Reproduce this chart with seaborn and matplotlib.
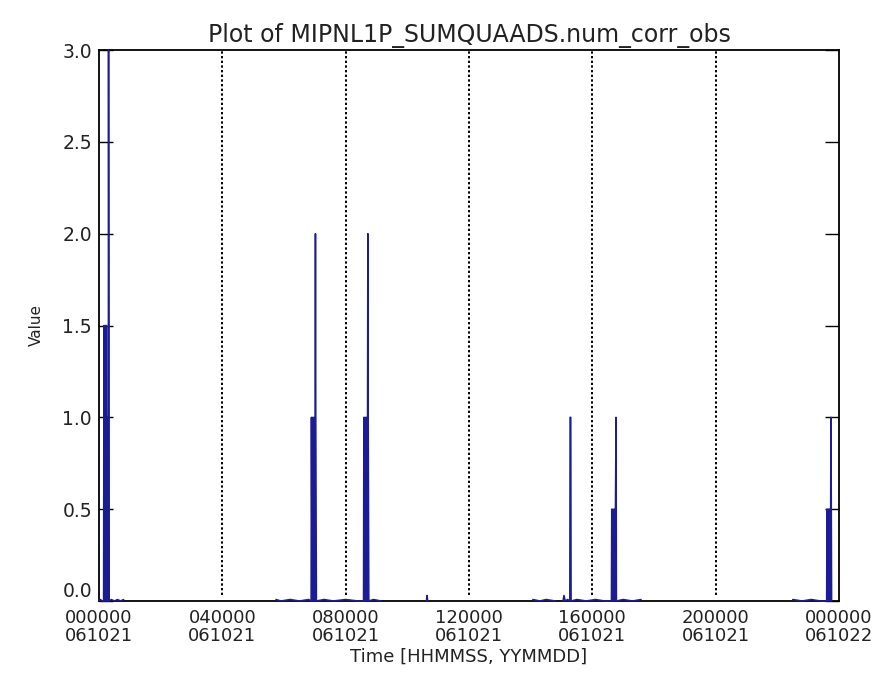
import numpy as np
import pandas as pd
import seaborn as sns
import matplotlib
matplotlib.use("Agg")
import matplotlib.pyplot as plt

# data (time in hours since 000000 061021)
seg1_t = [0.00, 0.05, 0.10, 0.15, 0.16, 0.18, 0.20, 0.22, 0.24, 0.26, 0.28, 0.30, 0.31, 0.33, 0.40, 0.50, 0.60, 0.70, 0.80]
seg1_v = [0.00, 0.008, 0.00, 0.00, 1.50, 0.00, 1.50, 0.00, 1.50, 0.00, 1.00, 0.00, 3.00, 0.00, 0.008, 0.00, 0.008, 0.00, 0.008]

seg2_t = [5.74, 5.90, 6.20, 6.50, 6.80, 6.88, 6.89, 6.91, 6.93, 6.95, 6.97, 6.99, 7.01, 7.02, 7.03, 7.05, 7.30, 7.60, 8.00, 8.40,
          8.58, 8.59, 8.61, 8.63, 8.65, 8.67, 8.69, 8.71, 8.72, 8.73, 8.75, 8.90, 9.15]
seg2_v = [0.008, 0.00, 0.008, 0.00, 0.008, 0.00, 1.00, 0.00, 1.00, 0.00, 1.00, 0.00, 1.00, 2.00, 1.00, 0.00, 0.008, 0.00, 0.008, 0.00,
          0.00, 1.00, 0.00, 1.00, 0.00, 1.00, 0.00, 1.00, 2.00, 1.00, 0.00, 0.008, 0.00]

seg3_t = [10.62, 10.64, 10.66]
seg3_v = [0.00, 0.03, 0.00]

seg4_t = [14.07, 14.30, 14.50, 14.80]
seg4_v = [0.008, 0.00, 0.008, 0.00]

seg5_t = [15.05, 15.08, 15.12, 15.20, 15.27, 15.28, 15.30, 15.31, 15.50, 15.80, 16.10, 16.40, 16.62,
          16.63, 16.65, 16.67, 16.69, 16.71, 16.73, 16.75, 16.77, 16.78, 17.00, 17.30, 17.58]
seg5_v = [0.00, 0.03, 0.00, 0.008, 0.00, 1.00, 1.00, 0.00, 0.008, 0.00, 0.008, 0.00, 0.00,
          0.50, 0.00, 0.50, 0.00, 0.50, 0.00, 0.50, 1.00, 0.00, 0.008, 0.00, 0.008]

seg6_t = [22.50, 22.80, 23.10, 23.40, 23.60, 23.61, 23.63, 23.65, 23.67, 23.69, 23.71, 23.73, 23.74, 23.76]
seg6_v = [0.008, 0.00, 0.008, 0.00, 0.00, 0.50, 0.00, 0.50, 0.00, 0.50, 0.00, 0.50, 1.00, 0.00]

x_ticks = [0, 4, 8, 12, 16, 20, 24]
x_ticklabels = ["000000\n061021", "040000\n061021", "080000\n061021", "120000\n061021",
                "160000\n061021", "200000\n061021", "000000\n061022"]
y_ticks = [0.0, 0.5, 1.0, 1.5, 2.0, 2.5, 3.0]
grid_lines = [4, 8, 12, 16, 20]

segs = [(seg1_t, seg1_v), (seg2_t, seg2_v), (seg3_t, seg3_v),
        (seg4_t, seg4_v), (seg5_t, seg5_v), (seg6_t, seg6_v)]
rows = []
for i, (ts, vs) in enumerate(segs):
    for t, v in zip(ts, vs):
        rows.append({"hours": t, "value": v, "seg": i})
df = pd.DataFrame(rows)

sns.set_theme(style="white")
plt.rcParams['font.family'] = ['DejaVu Sans']

fig = plt.figure(figsize=(8.89, 6.98), dpi=100)
ax = fig.add_axes([99/889, 1-601/698, 740/889, 551/698])

for g in grid_lines:
    ax.axvline(g, ymin=0.01, ymax=1, color='black', linestyle=(0, (1.2, 1.2)), lw=1.4, zorder=1)

sns.lineplot(data=df, x="hours", y="value", units="seg", estimator=None, sort=False,
             color='#1c1c96', lw=1.15, ax=ax, zorder=3)
for line in ax.lines:
    line.set_clip_on(False)

ax.set_xlim(0, 24)
ax.set_ylim(0, 3.0)
ax.set_xticks(x_ticks)
ax.set_xticklabels(x_ticklabels, fontsize=13, linespacing=0.95, color='#222222')
ax.set_yticks(y_ticks)
ax.set_yticklabels([f"{y:.1f}" for y in y_ticks], fontsize=13.5, color='#222222')
ax.get_yticklabels()[0].set_va('bottom')
ax.tick_params(axis='x', length=0, pad=6)
ax.tick_params(axis='y', direction='in', length=10, width=1, color='black',
               right=True, left=True, pad=5)

for s in ax.spines.values():
    s.set_color('black')
    s.set_linewidth(1.3)

ax.set_title("Plot of MIPNL1P_SUMQUAADS.num_corr_obs", fontsize=17, pad=6, color='#222222')
ax.set_xlabel("Time [HHMMSS, YYMMDD]", fontsize=13, labelpad=2, color='#222222')
ax.set_ylabel("Value", fontsize=11, color='#222222')
ax.yaxis.set_label_coords(-0.074, 0.5)

fig.savefig("out.png", dpi=100, facecolor='white')
